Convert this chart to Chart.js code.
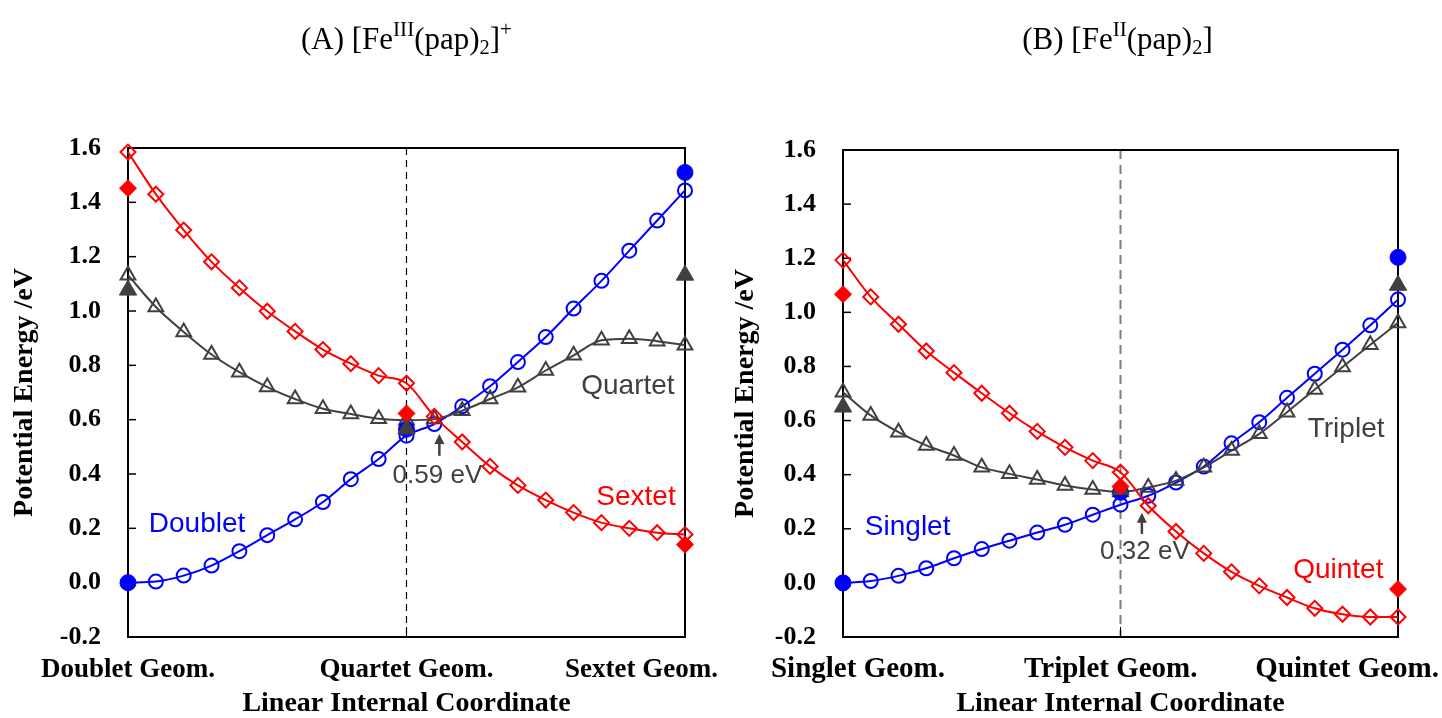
<!DOCTYPE html>
<html>
<head>
<meta charset="utf-8">
<script src="https://cdn.jsdelivr.net/npm/chart.js@4.4.1/dist/chart.umd.min.js"></script>
<style>
html,body{margin:0;padding:0;background:#fff;width:1442px;height:718px;overflow:hidden;}
.wrap{position:absolute;top:0;width:721px;height:718px;}
.title{position:absolute;top:21px;width:721px;text-align:center;font-family:"Liberation Serif","Times New Roman",serif;font-size:31px;line-height:36px;color:#000;white-space:nowrap;}
.title sup{font-size:0.68em;vertical-align:0.6em;line-height:0;}
.title sub{font-size:0.66em;vertical-align:-0.22em;line-height:0;}
</style>
</head>
<body>
<div class="wrap" style="left:0"><canvas id="cA" width="721" height="718"></canvas></div>
<div class="wrap" style="left:721px"><canvas id="cB" width="721" height="718"></canvas></div>
<div class="title" style="left:46px">(A) [Fe<sup>III</sup>(pap)<sub>2</sub>]<sup>+</sup></div>
<div class="title" style="left:757px">(B) [Fe<sup>II</sup>(pap)<sub>2</sub>]</div>
<script>
// ---------- data ----------
const coord = [0,1,2,3,4,5,6,7,8,9,10,11,12,13,14,15,16,17,18,19,20];
const endCoord = [0,10,20];
const yTickValues = [-0.2,0,0.2,0.4,0.6,0.8,1.0,1.2,1.4,1.6];
const geomTicks = [0,10,20];
const geomLabelsA = ['Doublet Geom.','Quartet Geom.','Sextet Geom.'];
const geomLabelsB = ['Singlet Geom.','Triplet Geom.','Quintet Geom.'];
const geomAnchorsA = [0,10,20];
const geomAnchorsB = [0.54,9.65,20];

// Panel A: [Fe(III)(pap)2]+
const doubletA = [0.000,0.004,0.026,0.063,0.116,0.175,0.233,0.297,0.381,0.455,0.541,0.584,0.649,0.723,0.812,0.904,1.009,1.111,1.222,1.333,1.444];
const quartetA = [1.132,1.015,0.923,0.840,0.775,0.720,0.676,0.640,0.621,0.603,0.598,0.602,0.633,0.676,0.719,0.781,0.837,0.892,0.898,0.889,0.874];
const sextetA  = [1.585,1.430,1.298,1.181,1.085,0.999,0.925,0.858,0.806,0.762,0.734,0.612,0.518,0.428,0.358,0.304,0.258,0.221,0.200,0.184,0.177];
const doubletEndA = [0.000,0.565,1.510];
const quartetEndA = [1.077,0.566,1.132];
const sextetEndA  = [1.452,0.623,0.140];

// Panel B: [Fe(II)(pap)2]
const singletB = [0.000,0.007,0.026,0.054,0.091,0.125,0.156,0.186,0.215,0.252,0.289,0.322,0.371,0.430,0.516,0.594,0.684,0.773,0.862,0.952,1.047];
const tripletB = [0.705,0.619,0.557,0.508,0.471,0.427,0.403,0.382,0.360,0.345,0.336,0.353,0.378,0.427,0.489,0.551,0.631,0.715,0.798,0.880,0.961];
const quintetB = [1.193,1.057,0.956,0.857,0.777,0.701,0.627,0.560,0.501,0.452,0.409,0.285,0.190,0.109,0.041,-0.011,-0.054,-0.094,-0.116,-0.126,-0.126];
const singletEndB = [0.000,0.335,1.203];
const tripletEndB = [0.650,0.345,1.100];
const quintetEndB = [1.067,0.356,-0.023];

const RED = '#FF0000', BLUE = '#0000FF', GRAY = '#404040';
const SERIF = '"Liberation Serif","Times New Roman",serif';
const SANS = '"Liberation Sans",Arial,sans-serif';

const textsA = [
  {text:'Doublet', x:2.48, y:0.188, color:BLUE, size:28},
  {text:'Quartet', x:17.95, y:0.695, color:GRAY, size:28},
  {text:'Sextet', x:18.24, y:0.285, color:RED, size:28},
  {text:'0.59 eV', x:11.11, y:0.366, color:GRAY, size:26}
];
const arrowA = {x:11.18, from:0.467, to:0.547};
const textsB = [
  {text:'Singlet', x:2.33, y:0.178, color:BLUE, size:28},
  {text:'Triplet', x:18.13, y:0.541, color:GRAY, size:28},
  {text:'Quintet', x:17.85, y:0.0185, color:RED, size:28},
  {text:'0.32 eV', x:10.88, y:0.089, color:GRAY, size:26}
];
const arrowB = {x:10.77, from:0.181, to:0.259};

// ---------- helpers ----------
function pts(xs, ys){ return xs.map((x,i)=>({x:x, y:ys[i]})); }
function openSet(label, ys, color, style, r){
  return {label, data:pts(coord, ys), borderColor:color, backgroundColor:'rgba(0,0,0,0)',
    borderWidth:2, pointStyle:style, pointRadius:r, pointHoverRadius:r, pointBorderWidth:2,
    pointBorderColor:color, pointBackgroundColor:'rgba(0,0,0,0)',
    cubicInterpolationMode:'monotone', clip:false, fill:false};
}
function filledSet(label, ys, color, style, r){
  return {label, data:pts(endCoord, ys), showLine:false, pointStyle:style, pointRadius:r,
    pointHoverRadius:r, pointBorderWidth:1, pointBorderColor:color, pointBackgroundColor:color,
    borderColor:color, backgroundColor:color, clip:false};
}

function decoPlugin(cfg){
  return {
    id:'deco',
    beforeDatasetsDraw(chart){
      const {ctx, chartArea:a, scales:{x, y}} = chart;
      ctx.save();
      const xd = x.getPixelForValue(10);
      ctx.strokeStyle = cfg.dashColor; ctx.lineWidth = cfg.dashWidth; ctx.setLineDash(cfg.dash);
      ctx.beginPath(); ctx.moveTo(xd, a.top); ctx.lineTo(xd, a.bottom); ctx.stroke();
      ctx.setLineDash([]);
      ctx.strokeStyle = '#000'; ctx.lineWidth = 1.5;
      yTickValues.forEach(v=>{
        const py = y.getPixelForValue(v);
        ctx.beginPath(); ctx.moveTo(a.left, py); ctx.lineTo(a.left+8, py); ctx.stroke();
      });
      ctx.lineWidth = 1;
      ctx.beginPath(); ctx.moveTo(xd, a.bottom); ctx.lineTo(xd, a.bottom-10); ctx.stroke();
      ctx.lineWidth = 2;
      ctx.strokeRect(a.left, a.top, a.right-a.left, a.bottom-a.top);
      ctx.restore();
    },
    afterDraw(chart){
      const {ctx, chartArea:a, scales:{x, y}, width} = chart;
      ctx.save();
      // category labels under the axis
      ctx.font = 'bold ' + cfg.geomSize + 'px ' + SERIF; ctx.fillStyle = '#000'; ctx.textBaseline = 'alphabetic'; ctx.textAlign = 'left';
      cfg.geomAnchors.forEach((v,i)=>{
        const t = cfg.geomLabels[i];
        const w = ctx.measureText(t).width;
        let left = x.getPixelForValue(v) - w/2;
        left = Math.max(2, Math.min(width - 3 - w, left));
        ctx.fillText(t, left, a.bottom + 40);
      });
      // series labels
      ctx.textAlign = 'center';
      cfg.texts.forEach(t=>{
        ctx.font = t.size + 'px ' + SANS; ctx.fillStyle = t.color;
        ctx.fillText(t.text, x.getPixelForValue(t.x), y.getPixelForValue(t.y));
      });
      // arrow
      const ax = x.getPixelForValue(cfg.arrow.x);
      const y0 = y.getPixelForValue(cfg.arrow.from), y1 = y.getPixelForValue(cfg.arrow.to);
      ctx.strokeStyle = GRAY; ctx.fillStyle = GRAY; ctx.lineWidth = 2.5;
      ctx.beginPath(); ctx.moveTo(ax, y0); ctx.lineTo(ax, y1 + 8); ctx.stroke();
      ctx.beginPath(); ctx.moveTo(ax, y1); ctx.lineTo(ax - 5, y1 + 10); ctx.lineTo(ax + 5, y1 + 10); ctx.closePath(); ctx.fill();
      ctx.restore();
    }
  };
}

function makeChart(id, sets, cfg, pad, yW, xH){
  const [lowS, midS, highS, lowE, midE, highE] = sets;
  return new Chart(document.getElementById(id), {
    type:'line',
    data:{datasets:[
      filledSet(cfg.names[2]+' (opt)', highE, RED, 'rectRot', 8.5),
      filledSet(cfg.names[1]+' (opt)', midE, GRAY, 'triangle', 10),
      filledSet(cfg.names[0]+' (opt)', lowE, BLUE, 'circle', 8),
      openSet(cfg.names[2], highS, RED, 'rectRot', 7.5),
      openSet(cfg.names[1], midS, GRAY, 'triangle', 8.5),
      openSet(cfg.names[0], lowS, BLUE, 'circle', 7)
    ]},
    options:{
      responsive:false, devicePixelRatio:1, animation:false,
      layout:{padding:pad},
      plugins:{legend:{display:false}, tooltip:{enabled:false}},
      events:[],
      scales:{
        x:{type:'linear', min:0, max:20,
          ticks:{display:false}, grid:{display:false, drawTicks:false}, border:{display:false},
          title:{display:true, text:'Linear Internal Coordinate', color:'#000',
            font:{family:SERIF, size:28, weight:'bold', lineHeight:1.0}, padding:{top:0, bottom:0}},
          afterFit(s){ s.height = xH; }
        },
        y:{type:'linear', min:-0.2, max:1.6,
          afterBuildTicks(s){ s.ticks = yTickValues.map(v=>({value:v})); },
          ticks:{color:'#000', padding:27, font:{family:SERIF, size:26, weight:'bold'},
            callback:(v)=> (Math.abs(v) < 1e-9 ? 0 : v).toFixed(1)},
          grid:{display:false, drawTicks:false}, border:{display:false},
          title:{display:true, text:'Potential Energy /eV', color:'#000',
            font:{family:SERIF, size:28, weight:'bold', lineHeight:1.2}, padding:{top:8, bottom:0}},
          afterFit(s){ s.width = yW; }
        }
      }
    },
    plugins:[decoPlugin(cfg)]
  });
}

makeChart('cA', [doubletA, quartetA, sextetA, doubletEndA, quartetEndA, sextetEndA],
  {names:['Doublet','Quartet','Sextet'], geomLabels:geomLabelsA, geomAnchors:geomAnchorsA, geomSize:27,
   texts:textsA, arrow:arrowA, dashColor:'#000', dashWidth:1.2, dash:[7,5]},
  {top:148, right:36, left:0, bottom:0}, 128, 81);

makeChart('cB', [singletB, tripletB, quintetB, singletEndB, tripletEndB, quintetEndB],
  {names:['Singlet','Triplet','Quintet'], geomLabels:geomLabelsB, geomAnchors:geomAnchorsB, geomSize:29,
   texts:textsB, arrow:arrowB, dashColor:'#7f7f7f', dashWidth:2, dash:[9,6]},
  {top:150, right:44, left:0, bottom:0}, 122, 81);
</script>
</body>
</html>
